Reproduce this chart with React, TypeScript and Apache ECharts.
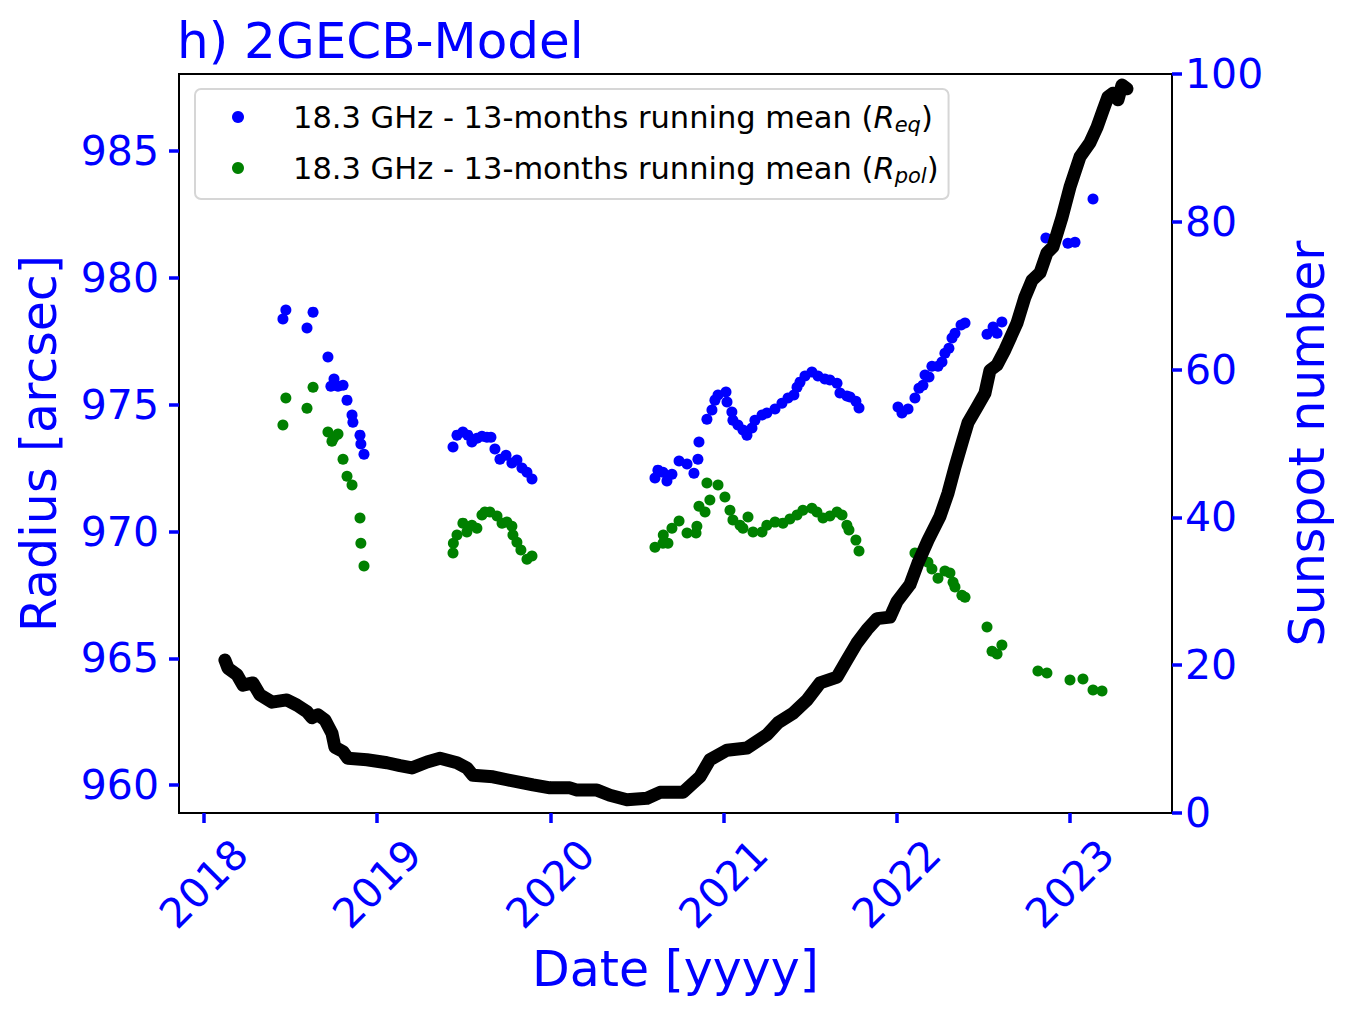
import React, { useEffect, useRef } from "react";
import * as echarts from "echarts";

const xTicks = [2018, 2019, 2020, 2021, 2022, 2023];
const radiusTicks = [960, 965, 970, 975, 980, 985];

const reqData: number[][] = [
  [2018.456, 978.38], [2018.473, 978.73], [2018.595, 978.02], [2018.63, 978.65],
  [2018.716, 976.88], [2018.751, 976.01], [2018.733, 975.73], [2018.774, 975.73],
  [2018.803, 975.77], [2018.826, 975.18], [2018.855, 974.59], [2018.86, 974.31],
  [2018.901, 973.8], [2018.906, 973.45], [2018.924, 973.05],
  [2019.438, 973.33], [2019.461, 973.8], [2019.495, 973.92], [2019.524, 973.8],
  [2019.547, 973.53], [2019.576, 973.68], [2019.605, 973.76], [2019.634, 973.72],
  [2019.657, 973.72], [2019.68, 973.25], [2019.709, 972.85], [2019.744, 973.01],
  [2019.778, 972.7], [2019.807, 972.82], [2019.836, 972.5], [2019.865, 972.34],
  [2019.894, 972.07],
  [2020.604, 972.11], [2020.621, 972.42], [2020.65, 972.34], [2020.673, 971.99],
  [2020.702, 972.26], [2020.743, 972.78], [2020.789, 972.66], [2020.829, 972.3],
  [2020.852, 972.85], [2020.858, 973.53], [2020.904, 974.43], [2020.933, 974.79],
  [2020.95, 975.18], [2020.968, 975.38], [2021.014, 975.5], [2021.02, 975.11],
  [2021.048, 974.71], [2021.054, 974.39], [2021.083, 974.2], [2021.112, 974.0],
  [2021.135, 973.8], [2021.164, 974.08], [2021.181, 974.39], [2021.222, 974.59],
  [2021.25, 974.67], [2021.297, 974.83], [2021.337, 975.06], [2021.372, 975.26],
  [2021.406, 975.38], [2021.424, 975.69], [2021.441, 975.89], [2021.47, 976.13],
  [2021.51, 976.29], [2021.545, 976.13], [2021.585, 976.01], [2021.614, 975.97],
  [2021.655, 975.85], [2021.672, 975.46], [2021.712, 975.34], [2021.73, 975.3],
  [2021.764, 975.14], [2021.782, 974.87],
  [2022.007, 974.91], [2022.03, 974.67], [2022.065, 974.83], [2022.105, 975.26],
  [2022.128, 975.65], [2022.151, 975.77], [2022.163, 976.17], [2022.186, 976.09],
  [2022.203, 976.52], [2022.238, 976.52], [2022.261, 976.68], [2022.278, 977.03],
  [2022.301, 977.23], [2022.319, 977.63], [2022.336, 977.82], [2022.371, 978.14],
  [2022.394, 978.22], [2022.521, 977.78], [2022.556, 978.06], [2022.579, 977.82],
  [2022.607, 978.26], [2022.861, 981.57], [2022.988, 981.37], [2023.029, 981.41],
  [2023.133, 983.11],
];

const rpolData: number[][] = [
  [2018.63, 975.69], [2018.473, 975.26], [2018.595, 974.86], [2018.456, 974.2],
  [2018.716, 973.92], [2018.774, 973.84], [2018.739, 973.56], [2018.751, 973.72],
  [2018.803, 972.85], [2018.826, 972.18], [2018.855, 971.83], [2018.901, 970.53],
  [2018.906, 969.54], [2018.924, 968.64],
  [2019.438, 969.15], [2019.44, 969.54], [2019.461, 969.86], [2019.495, 970.33],
  [2019.518, 969.98], [2019.547, 970.25], [2019.576, 970.13], [2019.605, 970.65],
  [2019.622, 970.77], [2019.651, 970.77], [2019.692, 970.61], [2019.721, 970.33],
  [2019.749, 970.37], [2019.778, 970.21], [2019.784, 969.86], [2019.807, 969.58],
  [2019.83, 969.27], [2019.865, 968.91], [2019.894, 969.03],
  [2020.604, 969.38], [2020.65, 969.54], [2020.652, 969.86], [2020.679, 969.54],
  [2020.702, 970.13], [2020.743, 970.41], [2020.789, 969.94], [2020.841, 969.94],
  [2020.846, 970.21], [2020.858, 971.0], [2020.893, 970.77], [2020.904, 971.91],
  [2020.921, 971.24], [2020.968, 971.83], [2021.008, 971.36], [2021.037, 970.84],
  [2021.054, 970.45], [2021.095, 970.25], [2021.112, 970.13], [2021.141, 970.57],
  [2021.17, 969.98], [2021.222, 969.98], [2021.25, 970.25], [2021.297, 970.37],
  [2021.343, 970.33], [2021.383, 970.49], [2021.424, 970.65], [2021.458, 970.84],
  [2021.51, 970.92], [2021.539, 970.77], [2021.574, 970.53], [2021.614, 970.61],
  [2021.655, 970.77], [2021.684, 970.65], [2021.712, 970.25], [2021.724, 970.06],
  [2021.764, 969.66], [2021.782, 969.23],
  [2022.105, 969.15], [2022.18, 968.79], [2022.203, 968.52], [2022.238, 968.16],
  [2022.278, 968.44], [2022.307, 968.36], [2022.325, 968.0], [2022.336, 967.81],
  [2022.376, 967.49], [2022.394, 967.41], [2022.521, 966.23], [2022.55, 965.28],
  [2022.579, 965.17], [2022.607, 965.52], [2022.815, 964.5], [2022.867, 964.42],
  [2023.0, 964.14], [2023.075, 964.18], [2023.133, 963.75], [2023.185, 963.71],
];

const sunspotData: number[][] = [
  [2018.121, 20.7], [2018.139, 19.6], [2018.191, 18.7], [2018.225, 17.3],
  [2018.283, 17.6], [2018.323, 16.0], [2018.393, 15.0], [2018.479, 15.3],
  [2018.537, 14.6], [2018.595, 13.7], [2018.624, 12.9], [2018.658, 13.3],
  [2018.699, 12.6], [2018.739, 10.8], [2018.756, 8.9], [2018.803, 8.3],
  [2018.831, 7.4], [2018.941, 7.2], [2019.057, 6.8], [2019.132, 6.4],
  [2019.201, 6.1], [2019.288, 6.9], [2019.363, 7.4], [2019.461, 6.8],
  [2019.518, 6.1], [2019.553, 5.1], [2019.669, 4.9], [2019.749, 4.5],
  [2019.9, 3.8], [2019.998, 3.4], [2020.113, 3.4], [2020.154, 3.1],
  [2020.269, 3.1], [2020.344, 2.4], [2020.442, 1.8], [2020.558, 2.0],
  [2020.633, 2.8], [2020.766, 2.8], [2020.864, 4.9], [2020.921, 7.2],
  [2021.02, 8.5], [2021.135, 8.8], [2021.251, 10.6], [2021.314, 12.2],
  [2021.401, 13.5], [2021.482, 15.3], [2021.557, 17.6], [2021.655, 18.4],
  [2021.712, 20.7], [2021.77, 23.0], [2021.828, 24.8], [2021.886, 26.3],
  [2021.961, 26.5], [2022.001, 28.6], [2022.076, 30.9], [2022.122, 33.8],
  [2022.18, 36.9], [2022.249, 40.1], [2022.296, 43.3], [2022.336, 46.8],
  [2022.382, 50.5], [2022.411, 52.8], [2022.463, 54.9], [2022.509, 56.8],
  [2022.538, 59.9], [2022.578, 60.6], [2022.625, 62.7], [2022.694, 66.3],
  [2022.74, 69.8], [2022.781, 72.1], [2022.827, 73.1], [2022.867, 75.8],
  [2022.902, 76.6], [2022.954, 80.6], [2023.0, 84.7], [2023.058, 88.8],
  [2023.115, 90.7], [2023.156, 92.8], [2023.191, 95.1], [2023.219, 96.9],
  [2023.248, 97.4], [2023.277, 96.5], [2023.3, 98.5], [2023.329, 98.0],
];

const FONT = "DejaVu Sans";
const BLUE = "#0000ff";

export default function App() {
  const ref = useRef<HTMLDivElement>(null);
  useEffect(() => {
    const chart = echarts.init(ref.current!, null, { renderer: "svg" });
    const tickStyle = { show: true, length: 10, lineStyle: { color: BLUE, width: 3.5 } };
    const axisLine = { show: true, lineStyle: { color: "#000", width: 2 } };
    chart.setOption({
      animation: false,
      textStyle: { fontFamily: FONT },
      title: {
        text: "h) 2GECB-Model",
        left: 172,
        top: 11,
        textStyle: { color: BLUE, fontFamily: FONT, fontSize: 50, fontWeight: "normal" },
      },
      grid: {
        left: 179, right: 178, top: 74, bottom: 199,
        show: true, borderColor: "#000", borderWidth: 2, backgroundColor: "transparent",
      },
      legend: {
        orient: "vertical",
        left: 195,
        top: 89,
        padding: [10, 10, 13, 37],
        itemGap: 15,
        itemWidth: 12,
        itemHeight: 12,
        borderColor: "#d6d6d6",
        borderWidth: 2,
        borderRadius: 6,
        backgroundColor: "rgba(255,255,255,0.8)",
        data: [
          { name: "req", icon: "circle", itemStyle: { opacity: 1 } },
          { name: "rpol", icon: "circle", itemStyle: { opacity: 1 } },
        ],
        formatter: (name: string) =>
          name === "req"
            ? "{sp|}{t|18.3 GHz - 13-months running mean (}{i|R}{s|eq}{t|)}"
            : "{sp|}{t|18.3 GHz - 13-months running mean (}{i|R}{s|pol}{t|)}",
        textStyle: {
          color: "#000",
          fontFamily: FONT,
          fontSize: 30.5,
          lineHeight: 36,
          rich: {
            sp: { width: 44 },
            t: { fontSize: 30.5, fontFamily: FONT, color: "#000", lineHeight: 36 },
            i: { fontSize: 30.5, fontFamily: FONT, fontStyle: "italic", color: "#000", lineHeight: 36 },
            s: {
              fontSize: 21, fontFamily: FONT, fontStyle: "italic", color: "#000",
              lineHeight: 36, verticalAlign: "bottom", padding: [12, 0, 0, 0],
            },
          },
        },
      },
      xAxis: {
        type: "value",
        min: 2017.856,
        max: 2023.589,
        name: "Date [yyyy]",
        nameLocation: "middle",
        nameGap: 132,
        nameTextStyle: { color: BLUE, fontFamily: FONT, fontSize: 49, verticalAlign: "top" },
        axisLine,
        axisTick: { ...tickStyle, customValues: xTicks },
        splitLine: { show: false },
        axisLabel: {
          customValues: xTicks,
          rotate: 45,
          align: "center",
          verticalAlign: "middle",
          margin: 71,
          color: BLUE,
          fontFamily: FONT,
          fontSize: 41,
          formatter: (v: number) => String(Math.round(v)),
        },
      },
      yAxis: [
        {
          type: "value",
          position: "left",
          min: 958.9,
          max: 988.04,
          name: "Radius [arcsec]",
          nameLocation: "middle",
          nameGap: 115,
          nameRotate: 90,
          nameTextStyle: { color: BLUE, fontFamily: FONT, fontSize: 49 },
          axisLine,
          axisTick: { ...tickStyle, customValues: radiusTicks },
          splitLine: { show: false },
          axisLabel: {
            customValues: radiusTicks,
            color: BLUE,
            fontFamily: FONT,
            fontSize: 41,
            margin: 20,
          },
        },
        {
          type: "value",
          position: "right",
          min: 0,
          max: 100,
          interval: 20,
          name: "Sunspot number",
          nameLocation: "middle",
          nameGap: 111,
          nameRotate: 90,
          nameTextStyle: { color: BLUE, fontFamily: FONT, fontSize: 49 },
          axisLine,
          axisTick: tickStyle,
          splitLine: { show: false },
          axisLabel: { color: BLUE, fontFamily: FONT, fontSize: 41, margin: 13 },
        },
      ],
      series: [
        {
          name: "req",
          type: "scatter",
          yAxisIndex: 0,
          data: reqData,
          symbol: "circle",
          symbolSize: 11,
          itemStyle: { color: BLUE, opacity: 1 },
          z: 2,
        },
        {
          name: "rpol",
          type: "scatter",
          yAxisIndex: 0,
          data: rpolData,
          symbol: "circle",
          symbolSize: 11,
          itemStyle: { color: "#008000", opacity: 1 },
          z: 2,
        },
        {
          name: "ssn",
          type: "line",
          yAxisIndex: 1,
          data: sunspotData,
          showSymbol: false,
          symbol: "none",
          lineStyle: { color: "#000", width: 13, cap: "round", join: "round" },
          z: 3,
        },
      ],
    });
    return () => chart.dispose();
  }, []);
  return (
    <div
      ref={ref}
      style={{ position: "fixed", left: 0, top: 0, width: 1350, height: 1012, background: "#fff" }}
    />
  );
}
